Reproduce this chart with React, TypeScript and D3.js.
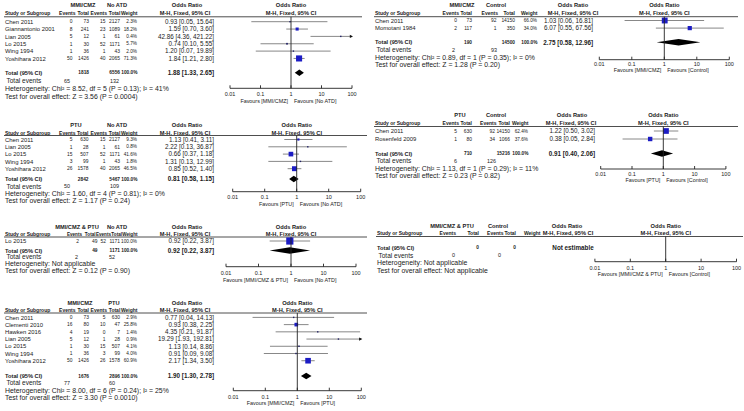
import React from 'react';
import * as d3 from 'd3';

// ---------- Panel A: MMI/CMZ vs No ATD ----------
const namesA = ["Chen 2011", "Giannantonio 2001", "Lian 2005", "Lo 2015", "Wing 1994", "Yoshihara 2012"];
const e1A = [0, 8, 5, 1, 1, 50];
const n1A = [73, 241, 12, 30, 36, 1426];
const e2A = [15, 23, 1, 52, 1, 40];
const n2A = [2127, 1089, 61, 1171, 43, 2065];
const wA = [2.3, 18.2, 0.4, 5.7, 2.0, 71.3];
const orA = [0.93, 1.59, 42.86, 0.74, 1.20, 1.84];
const loA = [0.05, 0.70, 4.36, 0.10, 0.07, 1.21];
const hiA = [15.64, 3.60, 421.22, 5.55, 19.89, 2.80];
const totA = [1818, 6556, 1.88, 1.33, 2.65, 65, 132];

// ---------- Panel B: MMI/CMZ vs Control ----------
const namesB = ["Chen 2011", "Momotani 1984"];
const e1B = [0, 2];
const n1B = [73, 117];
const e2B = [92, 1];
const n2B = [14150, 350];
const wB = [66.0, 34.0];
const orB = [1.03, 6.07];
const loB = [0.06, 0.55];
const hiB = [16.81, 67.56];
const totB = [190, 14500, 2.75, 0.58, 12.96, 2, 93];

// ---------- Panel C: PTU vs No ATD ----------
const namesC = ["Chen 2011", "Lian 2005", "Lo 2015", "Wing 1994", "Yoshihara 2012"];
const e1C = [5, 1, 15, 3, 26];
const n1C = [630, 28, 507, 99, 1578];
const e2C = [15, 1, 52, 1, 40];
const n2C = [2127, 61, 1171, 43, 2065];
const wC = [9.3, 0.8, 41.6, 1.8, 46.5];
const orC = [1.13, 2.22, 0.66, 1.31, 0.85];
const loC = [0.41, 0.13, 0.37, 0.13, 0.52];
const hiC = [3.11, 36.87, 1.18, 12.99, 1.40];
const totC = [2842, 5467, 0.81, 0.58, 1.15, 50, 109];

// ---------- Panel D: PTU vs Control ----------
const namesD = ["Chen 2011", "Rosenfeld 2009"];
const e1D = [5, 1];
const n1D = [630, 80];
const e2D = [92, 34];
const n2D = [14150, 1066];
const wD = [62.4, 37.6];
const orD = [1.22, 0.38];
const loD = [0.50, 0.05];
const hiD = [3.02, 2.84];
const totD = [710, 15216, 0.91, 0.40, 2.06, 6, 126];

// ---------- Panel E: MMI/CMZ & PTU vs No ATD ----------
const namesE = ["Lo 2015"];
const e1E = [2];
const n1E = [49];
const e2E = [52];
const n2E = [1171];
const wE = [100.0];
const orE = [0.92];
const loE = [0.22];
const hiE = [3.87];
const totE = [49, 1171, 0.92, 0.22, 3.87, 2, 52];

// ---------- Panel F: MMI/CMZ & PTU vs Control ----------
const namesF: string[] = [];
const totF = [0, 0, 0, 0, 0, 0, 0];

// ---------- Panel G: MMI/CMZ vs PTU ----------
const namesG = ["Chen 2011", "Clementi 2010", "Hawken 2016", "Lian 2005", "Lo 2015", "Wing 1994", "Yoshihara 2012"];
const e1G = [0, 16, 4, 5, 1, 1, 50];
const n1G = [73, 80, 19, 12, 30, 36, 1426];
const e2G = [5, 10, 0, 1, 15, 3, 26];
const n2G = [630, 47, 7, 28, 507, 99, 1578];
const wG = [2.9, 25.8, 1.4, 0.9, 4.1, 4.0, 60.9];
const orG = [0.77, 0.93, 4.35, 19.29, 1.13, 0.91, 2.17];
const loG = [0.04, 0.38, 0.21, 1.93, 0.14, 0.09, 1.34];
const hiG = [14.13, 2.25, 91.87, 192.81, 8.86, 9.08, 3.50];
const totG = [1676, 2896, 1.90, 1.30, 2.78, 77, 60];

const ticksOR = [0.01, 0.1, 1, 10, 100];
const tickLabels = ["0.01", "0.1", "1", "10", "100"];

const FONT = "'Liberation Sans', Arial, Helvetica, sans-serif";

type PanelData = {
  g1: string; g2: string;
  names: string[]; e1: number[]; n1: number[]; e2: number[]; n2: number[];
  w: number[]; or: number[]; lo: number[]; hi: number[];
  tot: number[];
  het: string; test: string;
  favL: string; favR: string;
  empty?: boolean;
};

type Layout = {
  sx: number;
  c: number[];     // value right edges: e1, n1, e2, n2, w, ci
  hx: number[];    // header right edges: e1, n1, e2, n2, w
  hfs: number;     // header font size
  g: number[];
  ciHdr: number;
  te: number[];
  y: { h1: number; h2: number; line: number; row0: number; step: number; tot: number; ev: number; het: number; test: number };
  f: { x1: number; dec: number; axis: number; lab: number; fav: number };
  lineX2: number;
};

const panels: [PanelData, Layout][] = [
  [
    { g1: "MMI/CMZ", g2: "No ATD", names: namesA, e1: e1A, n1: n1A, e2: e2A, n2: n2A, w: wA, or: orA, lo: loA, hi: hiA, tot: totA,
      het: "Heterogeneity: Chi² = 8.52, df = 5 (P = 0.13); I² = 41%", test: "Test for overall effect: Z = 3.56 (P = 0.0004)",
      favL: "Favours [MMI/CMZ]", favR: "Favours [No ATD]" },
    { sx: 5, c: [72.5, 89, 105.5, 120, 137, 214], hx: [75.5, 89, 107, 120.3, 137.5], hfs: 5.0, g: [83, 117, 187], ciHdr: 185, te: [70, 119],
      y: { h1: 5.3, h2: 12.8, line: 16.8, row0: 21.7, step: 7.35, tot: 72.7, ev: 80.6, het: 89, test: 96.7 },
      f: { x1: 291, dec: 30.5, axis: 88.3, lab: 94.5, fav: 100.7 }, lineX2: 362 },
  ],
  [
    { g1: "MMI/CMZ", g2: "Control", names: namesB, e1: e1B, n1: n1B, e2: e2B, n2: n2B, w: wB, or: orB, lo: loB, hi: hiB, tot: totB,
      het: "Heterogeneity: Chi² = 0.89, df = 1 (P = 0.35); I² = 0%", test: "Test for overall effect: Z = 1.28 (P = 0.20)",
      favL: "Favours [MMI/CMZ]", favR: "Favours [Control]" },
    { sx: 375, c: [457, 472, 496.5, 515, 537, 593], hx: [459, 472, 498, 515, 537.5], hfs: 5.0, g: [462, 496, 573], ciHdr: 573, te: [455, 497],
      y: { h1: 5.3, h2: 12.8, line: 16.7, row0: 20.5, step: 7.6, tot: 42.3, ev: 50, het: 57.5, test: 65 },
      f: { x1: 664.3, dec: 32.5, axis: 59.7, lab: 64.5, fav: 70.3 }, lineX2: 738 },
  ],
  [
    { g1: "PTU", g2: "No ATD", names: namesC, e1: e1C, n1: n1C, e2: e2C, n2: n2C, w: wC, or: orC, lo: loC, hi: hiC, tot: totC,
      het: "Heterogeneity: Chi² = 1.60, df = 4 (P = 0.81); I² = 0%", test: "Test for overall effect: Z = 1.17 (P = 0.24)",
      favL: "Favours [PTU]", favR: "Favours [No ATD]" },
    { sx: 5, c: [72.5, 88.5, 105.5, 120, 137, 214], hx: [75.5, 88.5, 107, 120.3, 137.5], hfs: 5.0, g: [76, 117, 187], ciHdr: 185, te: [70, 119],
      y: { h1: 125, h2: 132.7, line: 135.5, row0: 139.5, step: 7.3, tot: 179, ev: 186.2, het: 193.3, test: 200.8 },
      f: { x1: 296.7, dec: 32, axis: 191.7, lab: 197.3, fav: 204.5 }, lineX2: 367 },
  ],
  [
    { g1: "PTU", g2: "Control", names: namesD, e1: e1D, n1: n1D, e2: e2D, n2: n2D, w: wD, or: orD, lo: loD, hi: hiD, tot: totD,
      het: "Heterogeneity: Chi² = 1.13, df = 1 (P = 0.29); I² = 11%", test: "Test for overall effect: Z = 0.23 (P = 0.82)",
      favL: "Favours [PTU]", favR: "Favours [Control]" },
    { sx: 375, c: [457, 472, 495, 510, 528, 595], hx: [459, 472, 496.5, 510, 528.5], hfs: 5.0, g: [460, 496, 572], ciHdr: 571, te: [457, 496],
      y: { h1: 115, h2: 122.7, line: 126.5, row0: 131, step: 8, tot: 153.5, ev: 161, het: 168.5, test: 176 },
      f: { x1: 663.3, dec: 31.3, axis: 169, lab: 174, fav: 180 }, lineX2: 738 },
  ],
  [
    { g1: "MMI/CMZ & PTU", g2: "No ATD", names: namesE, e1: e1E, n1: n1E, e2: e2E, n2: n2E, w: wE, or: orE, lo: loE, hi: hiE, tot: totE,
      het: "Heterogeneity: Not applicable", test: "Test for overall effect: Z = 0.12 (P = 0.90)",
      favL: "Favours [MMI/CMZ & PTU]", favR: "Favours [No ATD]" },
    { sx: 5, c: [79, 97.5, 106, 120, 137, 214], hx: [82, 95.5, 111, 122, 137.5], hfs: 4.6, g: [77, 117, 187], ciHdr: 185, te: [78, 115],
      y: { h1: 227.3, h2: 234.2, line: 237, row0: 241, step: 7.3, tot: 250.5, ev: 257, het: 264, test: 271 },
      f: { x1: 291, dec: 32.5, axis: 266.7, lab: 272.7, fav: 280 }, lineX2: 367 },
  ],
  [
    { g1: "MMI/CMZ & PTU", g2: "Control", names: namesF, e1: [], n1: [], e2: [], n2: [], w: [], or: [], lo: [], hi: [], tot: totF,
      het: "Heterogeneity: Not applicable", test: "Test for overall effect: Not applicable",
      favL: "Favours [MMI/CMZ & PTU]", favR: "Favours [Control]", empty: true },
    { sx: 377, c: [453, 479, 502, 516, 540, 590], hx: [456, 479, 503.5, 516, 540.5], hfs: 5.0, g: [452, 498, 567], ciHdr: 568, te: [455, 501],
      y: { h1: 226.3, h2: 233.3, line: 236.5, row0: 241, step: 7.3, tot: 247.7, ev: 255.3, het: 262.5, test: 270.3 },
      f: { x1: 665.7, dec: 35.4, axis: 261.7, lab: 267.7, fav: 274.3 }, lineX2: 743 },
  ],
  [
    { g1: "MMI/CMZ", g2: "PTU", names: namesG, e1: e1G, n1: n1G, e2: e2G, n2: n2G, w: wG, or: orG, lo: loG, hi: hiG, tot: totG,
      het: "Heterogeneity: Chi² = 8.00, df = 6 (P = 0.24); I² = 25%", test: "Test for overall effect: Z = 3.30 (P = 0.0010)",
      favL: "Favours [MMI/CMZ]", favR: "Favours [PTU]" },
    { sx: 5, c: [72.5, 89, 105.5, 120, 137, 214], hx: [75.5, 89, 107, 120.3, 137.5], hfs: 5.0, g: [80, 114, 187], ciHdr: 185, te: [70, 115],
      y: { h1: 302.7, h2: 310, line: 313, row0: 317.4, step: 7.22, tot: 376, ev: 382.8, het: 390.1, test: 397.4 },
      f: { x1: 297.3, dec: 32, axis: 390.7, lab: 397.3, fav: 403.5 }, lineX2: 367 },
  ],
];

// font sizes
const FS_G = 5.7;   // group header row / total label
const FS_N = 5.9;   // study names
const FS_C = 4.9;   // counts
const FS_W = 4.7;   // weights
const FS_TB = 4.8;  // bold totals
const FS_CI = 6.3;  // CI text
const FS_F = 6.9;   // footers
const FS_A = 5.5;   // axis labels
const FS_FAV = 5.4; // favours
const TXT = "#1a1a1a";

function Panel({ d, L }: { d: PanelData; L: Layout }) {
  const x = d3.scaleLog().domain([0.01, 100]).range([L.f.x1 - 2 * L.f.dec, L.f.x1 + 2 * L.f.dec]);
  const yRow = d3.scaleLinear().domain([0, 1]).range([L.y.row0, L.y.row0 + L.y.step]);
  const side = d3.scaleSqrt().domain([0, 100]).range([0, 7.2]);
  const fmt = d3.format(".2f");
  const T = (fs: number, props: any, s: string | number) => (
    <text fontSize={fs} fill={TXT} {...props} y={props.y + fs * 0.36}>{s}</text>
  );
  const [c0, c1, c2, c3, c4, c5] = L.c;
  const hx = L.hx;
  const tot = d.tot;
  const diaH = 3.3;
  return (
    <g fontFamily={FONT}>
      {T(FS_G, { x: L.g[0], y: L.y.h1, textAnchor: "middle", fontWeight: "bold" }, d.g1)}
      {T(FS_G, { x: L.g[1], y: L.y.h1, textAnchor: "middle", fontWeight: "bold" }, d.g2)}
      {T(FS_G, { x: L.g[2], y: L.y.h1, textAnchor: "middle", fontWeight: "bold" }, "Odds Ratio")}
      {T(FS_G, { x: L.f.x1, y: L.y.h1, textAnchor: "middle", fontWeight: "bold" }, "Odds Ratio")}
      {T(5.0, { x: L.sx, y: L.y.h2, fontWeight: "bold" }, "Study or Subgroup")}
      {T(L.hfs, { x: hx[0], y: L.y.h2, textAnchor: "end", fontWeight: "bold" }, "Events")}
      {T(L.hfs, { x: hx[1], y: L.y.h2, textAnchor: "end", fontWeight: "bold" }, "Total")}
      {T(L.hfs, { x: hx[2], y: L.y.h2, textAnchor: "end", fontWeight: "bold" }, "Events")}
      {T(L.hfs, { x: hx[3], y: L.y.h2, textAnchor: "end", fontWeight: "bold" }, "Total")}
      {T(L.hfs, { x: hx[4], y: L.y.h2, textAnchor: "end", fontWeight: "bold" }, "Weight")}
      {T(5.7, { x: L.ciHdr, y: L.y.h2, textAnchor: "middle", fontWeight: "bold" }, "M-H, Fixed, 95% CI")}
      {T(5.7, { x: L.f.x1, y: L.y.h2, textAnchor: "middle", fontWeight: "bold" }, "M-H, Fixed, 95% CI")}
      <line x1={L.sx - 1} x2={L.lineX2} y1={L.y.line} y2={L.y.line} stroke="#3a3a3a" strokeWidth={0.9} />
      {d.names.map((name, i) => {
        const y = yRow(i);
        const lo = Math.max(d.lo[i], 0.01);
        const hi = Math.min(d.hi[i], 100);
        const s = Math.max(side(d.w[i]), 1.4);
        return (
          <g key={name}>
            {T(FS_N, { x: L.sx, y }, name)}
            {T(FS_C, { x: c0, y, textAnchor: "end" }, d.e1[i])}
            {T(FS_C, { x: c1, y, textAnchor: "end" }, d.n1[i])}
            {T(FS_C, { x: c2, y, textAnchor: "end" }, d.e2[i])}
            {T(FS_C, { x: c3, y, textAnchor: "end" }, d.n2[i])}
            {T(FS_W, { x: c4, y, textAnchor: "end" }, d.w[i].toFixed(1) + "%")}
            {T(FS_CI, { x: c5, y, textAnchor: "end" }, `${fmt(d.or[i])} [${fmt(d.lo[i])}, ${fmt(d.hi[i])}]`)}
            <line x1={x(lo)} x2={x(hi)} y1={y} y2={y} stroke="#7a7a7a" strokeWidth={0.9} />
            {d.hi[i] > 100 && (
              <polygon points={`${x(100) + 1},${y} ${x(100) - 2.2},${y - 1.6} ${x(100) - 2.2},${y + 1.6}`} fill="#111" />
            )}
            <rect x={x(d.or[i]) - s / 2} y={y - s / 2} width={s} height={s} fill={s > 2 ? "#1c1cc4" : "#222266"} />
          </g>
        );
      })}
      {T(FS_G, { x: L.sx, y: L.y.tot, fontWeight: "bold" }, "Total (95% CI)")}
      {T(FS_TB, { x: c1, y: L.y.tot, textAnchor: "end", fontWeight: "bold" }, tot[0])}
      {T(FS_TB, { x: c3, y: L.y.tot, textAnchor: "end", fontWeight: "bold" }, tot[1])}
      {!d.empty && T(FS_TB, { x: c4 + 0.5, y: L.y.tot, textAnchor: "end", fontWeight: "bold" }, "100.0%")}
      {d.empty
        ? T(FS_CI, { x: L.ciHdr + 5, y: L.y.tot, textAnchor: "middle", fontWeight: "bold" }, "Not estimable")
        : T(FS_CI, { x: c5, y: L.y.tot, textAnchor: "end", fontWeight: "bold" }, `${fmt(tot[2])} [${fmt(tot[3])}, ${fmt(tot[4])}]`)}
      {!d.empty && (
        <polygon
          points={`${x(tot[3])},${L.y.tot} ${x(tot[2])},${L.y.tot - diaH} ${x(tot[4])},${L.y.tot} ${x(tot[2])},${L.y.tot + diaH}`}
          fill="#000"
        />
      )}
      {T(FS_F - 0.4, { x: L.sx + 1.5, y: L.y.ev }, "Total events")}
      {T(FS_C + 0.5, { x: L.te[0], y: L.y.ev, textAnchor: "end" }, tot[5])}
      {T(FS_C + 0.5, { x: L.te[1], y: L.y.ev, textAnchor: "end" }, tot[6])}
      {T(FS_F, { x: L.sx, y: L.y.het }, d.het)}
      {T(FS_F, { x: L.sx, y: L.y.test }, d.test)}
      <line x1={x(1)} x2={x(1)} y1={L.y.line} y2={L.f.axis} stroke="#222" strokeWidth={0.9} />
      <line x1={x(0.01)} x2={x(100)} y1={L.f.axis} y2={L.f.axis} stroke="#222" strokeWidth={0.9} />
      {ticksOR.map((t, i) => (
        <g key={t}>
          <line x1={x(t)} x2={x(t)} y1={L.f.axis - 3} y2={L.f.axis} stroke="#222" strokeWidth={0.9} />
          {T(FS_A, { x: x(t), y: L.f.lab, textAnchor: "middle" }, tickLabels[i])}
        </g>
      ))}
      {T(FS_FAV, { x: x(1) - 3, y: L.f.fav, textAnchor: "end" }, d.favL)}
      {T(FS_FAV, { x: x(1) + 3, y: L.f.fav }, d.favR)}
    </g>
  );
}

export default function App() {
  return (
    <svg width={744} height={411} viewBox="0 0 744 411"
      style={{ position: "absolute", left: 0, top: 0, background: "#fff" }}>
      <rect width={744} height={411} fill="#fff" />
      {panels.map(([d, L], i) => <Panel key={i} d={d} L={L} />)}
    </svg>
  );
}
